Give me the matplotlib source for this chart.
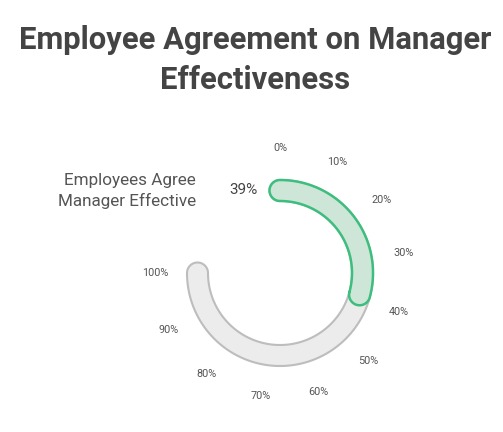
import numpy as np
import matplotlib
matplotlib.use("Agg")
import matplotlib.pyplot as plt
from matplotlib.patches import Polygon

plt.rcParams['font.family'] = ['Roboto', 'DejaVu Sans']

title = "Employee Agreement on Manager\nEffectiveness"
series_label = "Employees Agree\nManager Effective"
agree_value = 39
track_max = 100
tick_values = [0, 10, 20, 30, 40, 50, 60, 70, 80, 90, 100]
tick_labels = [f"{v}%" for v in tick_values]

# layout in pixels (y up)
W, H = 503, 432
cx, cy = 280, H - 273
r_out, r_in = 93, 72
r_mid = (r_out + r_in) / 2
cap_r = (r_out - r_in) / 2
sweep = 270.0


def val_to_angle(v):
    return np.radians(90 - v / track_max * sweep)


def band(v0, v1, n=200):
    a0, a1 = val_to_angle(v0), val_to_angle(v1)
    t = np.linspace(a0, a1, n)
    outer = np.column_stack([cx + r_out * np.cos(t), cy + r_out * np.sin(t)])
    inner = np.column_stack([cx + r_in * np.cos(t[::-1]), cy + r_in * np.sin(t[::-1])])
    # end cap
    ex, ey = cx + r_mid * np.cos(a1), cy + r_mid * np.sin(a1)
    tc = np.linspace(a1, a1 - np.pi, 40)
    cap_end = np.column_stack([ex + cap_r * np.cos(tc), ey + cap_r * np.sin(tc)])
    # start cap
    sx, sy = cx + r_mid * np.cos(a0), cy + r_mid * np.sin(a0)
    ts = np.linspace(a0 + np.pi, a0, 40)
    cap_start = np.column_stack([sx + cap_r * np.cos(ts), sy + cap_r * np.sin(ts)])
    return np.vstack([outer, cap_end, inner, cap_start])


fig = plt.figure(figsize=(W / 100, H / 100), dpi=100)
ax = fig.add_axes([0, 0, 1, 1])
ax.set_xlim(0, W)
ax.set_ylim(0, H)
ax.axis('off')

ax.add_patch(Polygon(band(0, track_max), closed=True, facecolor='#ececec',
                     edgecolor='#bdbdbd', linewidth=1.5, joinstyle='round'))
ax.add_patch(Polygon(band(0, agree_value), closed=True, facecolor='#cde6d8',
                     edgecolor='#3dbe7e', linewidth=1.8, joinstyle='round'))

for v, lab in zip(tick_values, tick_labels):
    a = val_to_angle(v)
    ax.text(cx + 125 * np.cos(a), cy + 125 * np.sin(a), lab, ha='center',
            va='center', fontsize=7.8, color='#555555')

ax.text(243, H - 190, f"{agree_value}%", ha='center', va='center',
        fontsize=11, color='#444444')
ax.text(196, H - 191, series_label, ha='right', va='center', fontsize=12.3,
        color='#555555', linespacing=1.4)

ax.text(W / 2 + 4, H - 60, title, ha='center', va='center', fontsize=22.3,
        fontweight='bold', color='#444444', linespacing=1.45)

fig.savefig("out.png", dpi=100)
